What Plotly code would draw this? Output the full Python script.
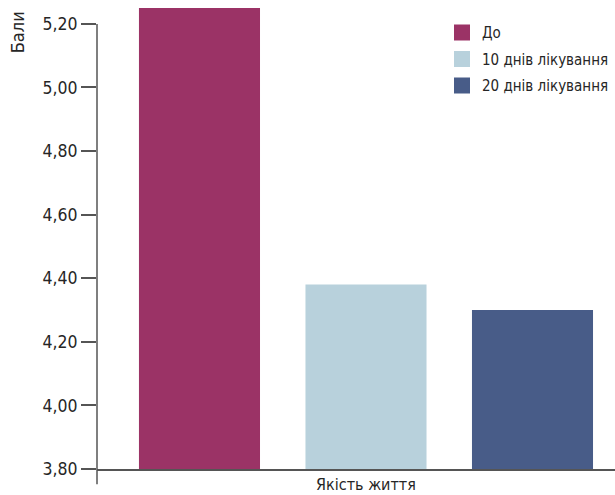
import plotly.graph_objects as go

# Data
category = ["Якість життя"]
series_names = ["До", "10 днів лікування", "20 днів лікування"]
series_values = [5.25, 4.38, 4.30]
series_colors = ["#9B3366", "#B8D1DC", "#485C88"]
y_ticks = [3.80, 4.00, 4.20, 4.40, 4.60, 4.80, 5.00, 5.20]
y_title = "Бали"

FONT = "Liberation Sans Narrow, DejaVu Sans Condensed, Roboto, sans-serif"
TEXT_COLOR = "#262626"
AXIS_COLOR = "#555555"
Y_MIN, Y_MAX = 3.80, 5.25

fig = go.Figure()

for name, val, col in zip(series_names, series_values, series_colors):
    fig.add_trace(go.Bar(
        x=category, y=[val], name=name, marker=dict(color=col, line=dict(width=0)),
        showlegend=False, legendgroup=name,
    ))

# Legend entries with larger square swatches
for name, col in zip(series_names, series_colors):
    fig.add_trace(go.Scatter(
        x=[None], y=[None], mode="markers", name=name, legendgroup=name,
        marker=dict(symbol="square", size=16, color=col),
    ))

# Y axis line starts at the top tick and runs past the x axis
top_tick_frac = (y_ticks[-1] - Y_MIN) / (Y_MAX - Y_MIN)
fig.add_shape(type="line", xref="paper", yref="paper", x0=0, x1=0,
              y0=top_tick_frac, y1=-0.033, line=dict(color=AXIS_COLOR, width=1.5))

fig.add_annotation(text=y_title, xref="paper", yref="paper", x=-0.152, y=0.948,
                   textangle=-90, showarrow=False, xanchor="center", yanchor="middle",
                   font=dict(family=FONT, size=18, color=TEXT_COLOR))

fig.update_layout(
    width=615, height=495,
    margin=dict(l=97, r=0, t=8, b=26),
    paper_bgcolor="white", plot_bgcolor="white",
    barmode="group", bargap=0.0, bargroupgap=0.273,
    separators=", ",
    font=dict(family=FONT, size=16, color=TEXT_COLOR),
    legend=dict(x=(442 - 97) / 518, y=0.982, xanchor="left", yanchor="top",
                font=dict(family=FONT, size=15, color=TEXT_COLOR),
                tracegroupgap=4, itemwidth=30, bgcolor="rgba(0,0,0,0)"),
    showlegend=True,
)

fig.update_xaxes(
    range=[-0.5385, 0.4985], showline=True, linecolor=AXIS_COLOR, linewidth=1.5,
    ticks="", showgrid=False, zeroline=False, ticklabelstandoff=0, automargin=False,
    tickfont=dict(family=FONT, size=16, color=TEXT_COLOR),
)
fig.update_yaxes(
    range=[Y_MIN, Y_MAX], tickvals=y_ticks, tickformat=".2f", automargin=False,
    showline=False, showgrid=False, zeroline=False,
    ticks="outside", ticklen=15, tickwidth=1.5, tickcolor=AXIS_COLOR,
    tickfont=dict(family=FONT, size=17.5, color=TEXT_COLOR),
)

fig.write_html("out.html")
